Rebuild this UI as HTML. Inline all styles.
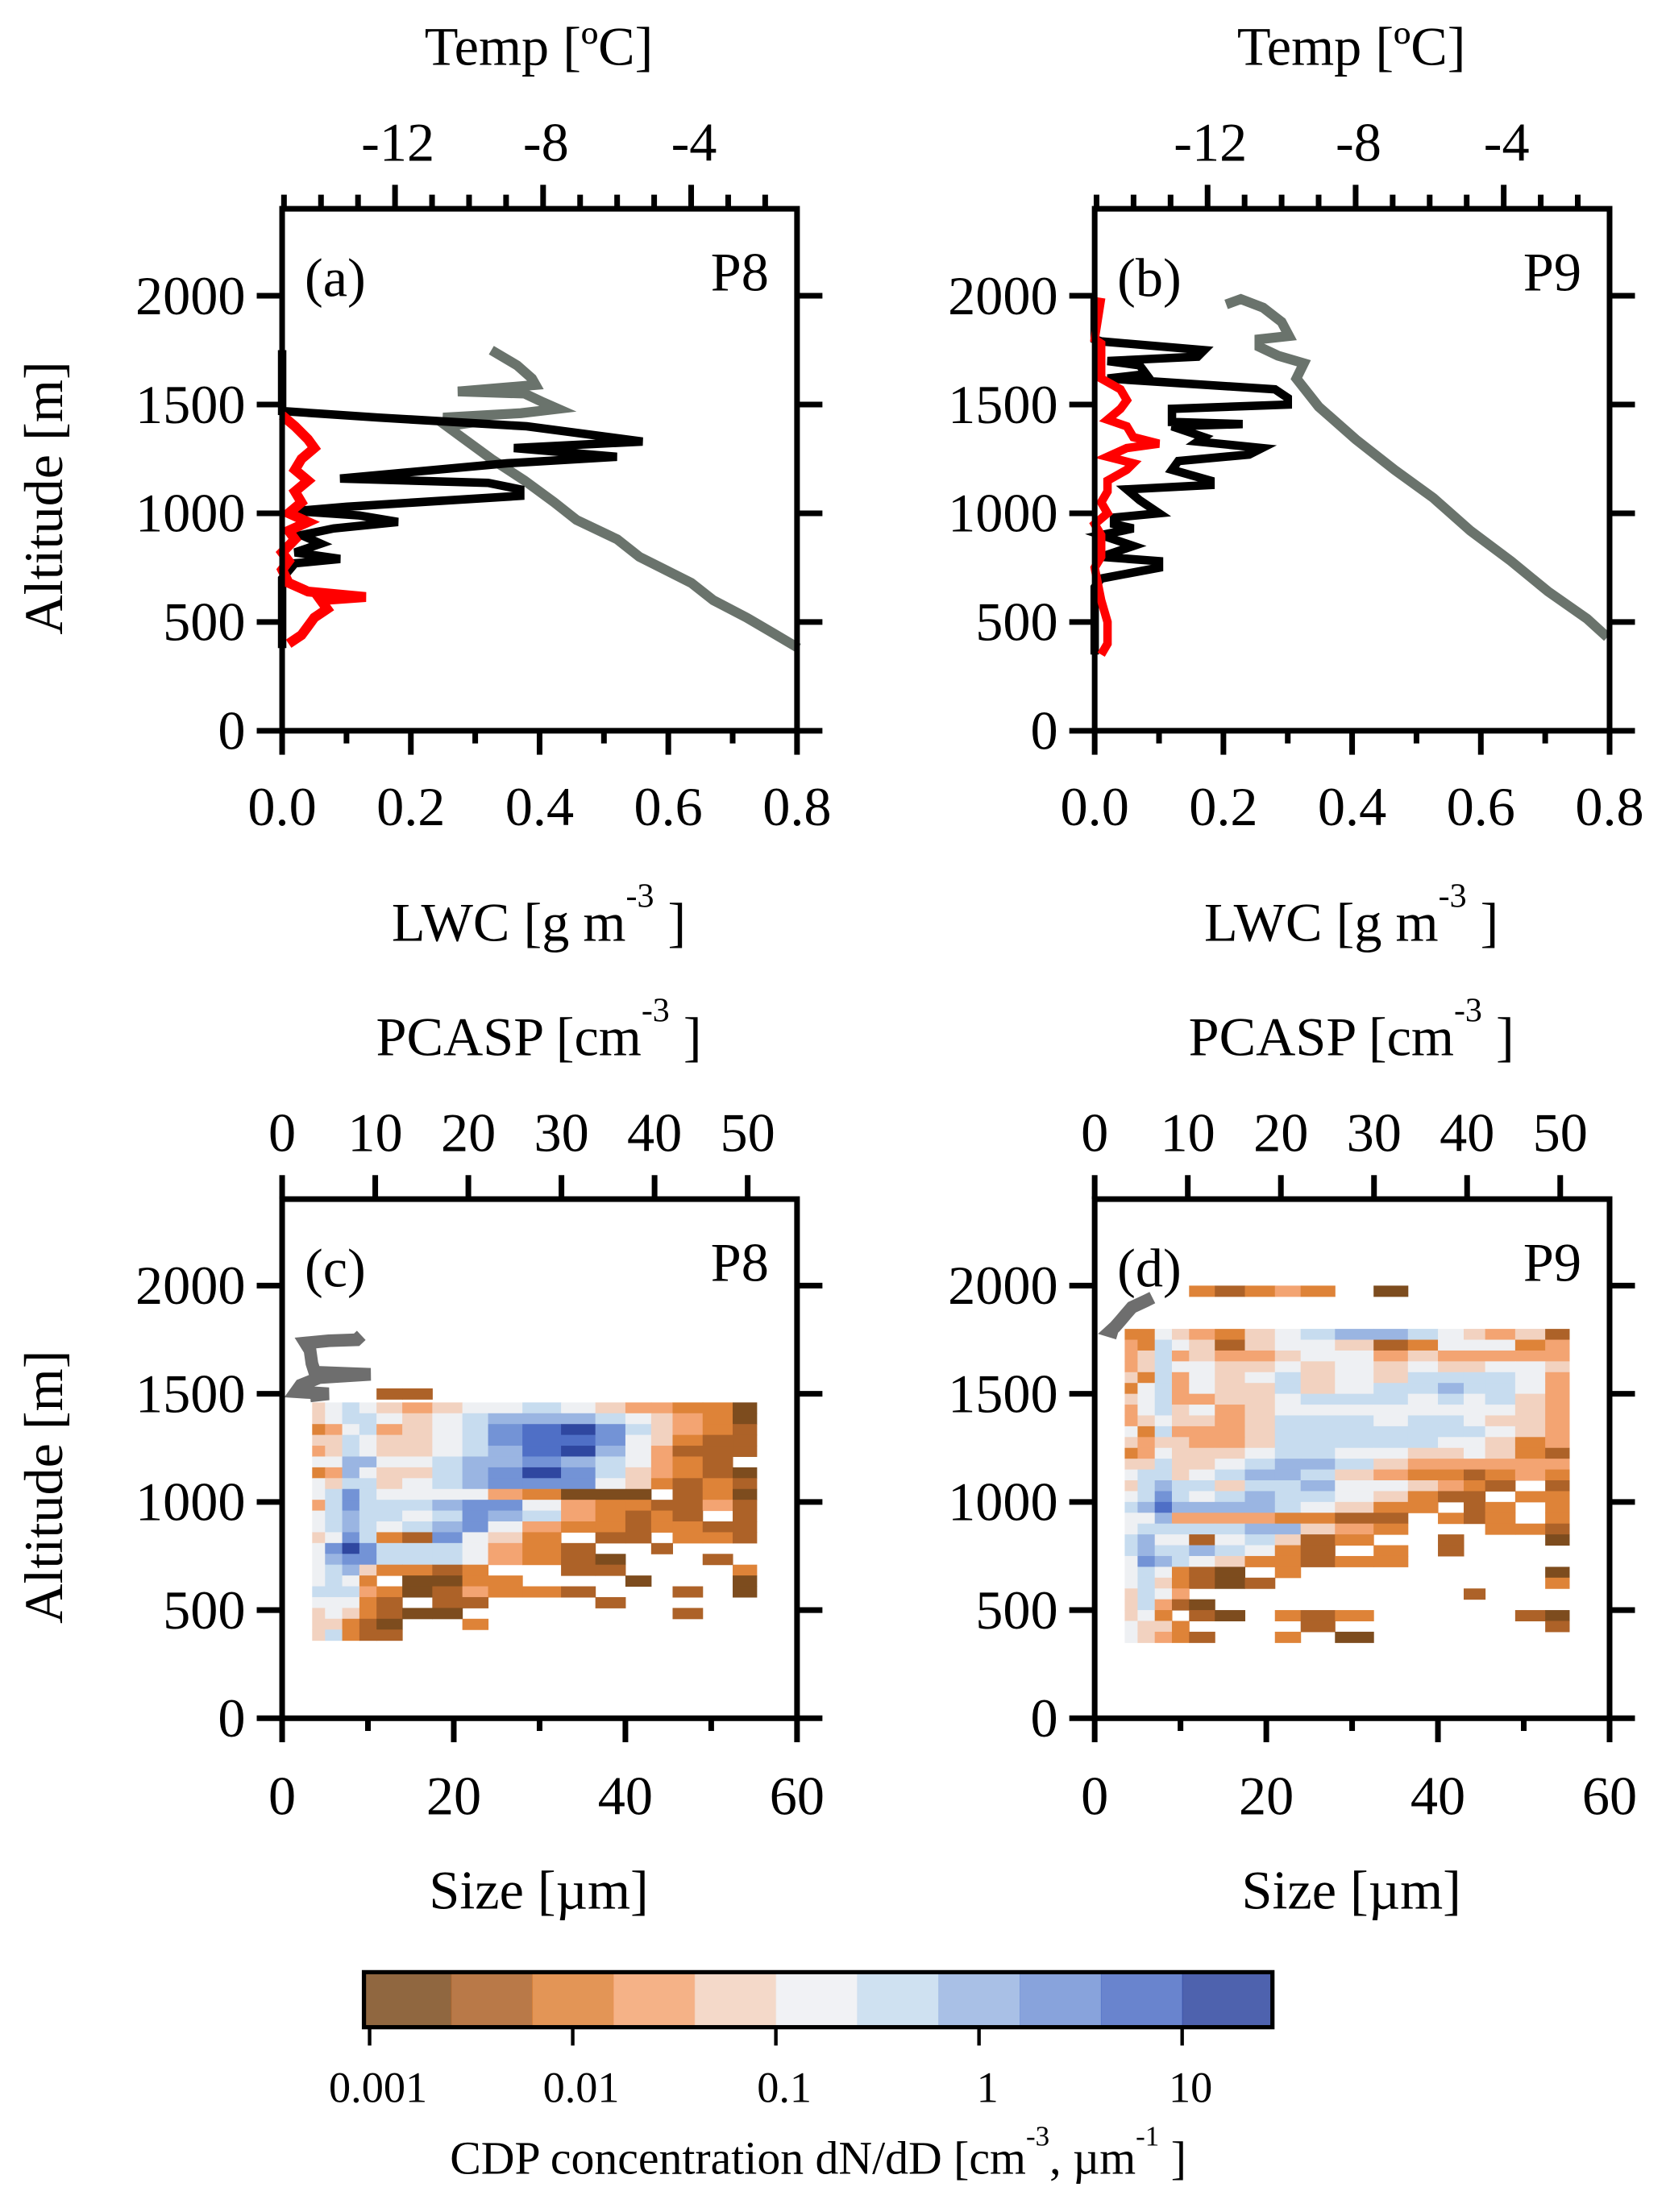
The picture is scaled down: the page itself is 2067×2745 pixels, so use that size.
<!DOCTYPE html>
<html><head><meta charset="utf-8"><style>
html,body{margin:0;padding:0;background:#fff;}
svg{display:block;}
text{font-family:"Liberation Serif",serif;fill:#000;}
</style></head><body>
<svg id="fig" width="2067" height="2745" viewBox="0 0 1181 1568" preserveAspectRatio="none" xmlns="http://www.w3.org/2000/svg">
<rect x="0" y="0" width="1181" height="1568" fill="#fff"/>
<g id="marks"></g>
<g id="axes"></g>
</svg>
<script>
// ---- data ----
const lwcAltA=[1750,1470,1440,1400,1330,1300,1260,1230,1160,1140,1110,1080,1030,1010,990,960,930,900,860,820,790,770,700,380];
const lwcA=[0,0,0.15,0.38,0.56,0.36,0.52,0.35,0.09,0.32,0.37,0.37,0.1,0.02,0.12,0.18,0.08,0.03,0.06,0.02,0.09,0.02,0,0];
const redAltA=[1450,1400,1340,1300,1250,1200,1150,1100,1050,1000,960,920,880,820,780,740,680,640,615,600,560,520,480,440,400];
const redA=[0,0.02,0.04,0.05,0.03,0.02,0.04,0.02,0.03,0.01,0.04,0.01,0.02,0,0.01,0,0.01,0.04,0.13,0.06,0.07,0.05,0.04,0.03,0.01];
const tAltA=[1750,1680,1620,1590,1560,1550,1510,1480,1460,1440,1420,1400,1350,1250,1150,1050,970,880,800,740,680,600,520,450,380];
const tempA=[-9.4,-8.7,-8.3,-8.2,-10.3,-8.5,-8.0,-7.6,-8.6,-10.7,-9.8,-10.6,-10.2,-9.4,-8.5,-7.7,-7.1,-6.0,-5.4,-4.7,-4.0,-3.4,-2.5,-1.8,-1.1];
const lwcAltB=[1990,1800,1790,1750,1720,1700,1680,1640,1620,1570,1530,1500,1480,1420,1410,1400,1350,1330,1300,1270,1240,1200,1150,1130,1110,1060,1000,980,950,930,900,850,800,780,750,700,660,350];
const lwcB=[0,0,0.01,0.17,0.16,0.02,0.07,0.08,0.02,0.28,0.3,0.3,0.12,0.12,0.23,0.12,0.17,0.16,0.26,0.24,0.13,0.12,0.18,0.18,0.05,0.07,0.1,0.03,0.03,0.06,0.01,0.06,0.01,0.1,0.1,0.01,0,0];
const redAltB=[1990,1800,1780,1700,1620,1570,1520,1480,1430,1400,1350,1320,1300,1260,1230,1200,1150,1100,1050,1000,950,900,800,750,600,500,400,350];
const redB=[0.01,0,0.01,0.01,0.01,0.04,0.05,0.04,0.02,0.05,0.06,0.1,0.05,0.02,0.06,0.05,0.02,0.02,0.01,0.02,0,0.01,0.01,0,0.01,0.02,0.02,0.01];
const tAltB=[1960,1985,1945,1880,1815,1800,1765,1725,1690,1620,1490,1340,1200,1070,920,780,640,515,430];
const tempB=[-11.5,-11.1,-10.5,-10.0,-9.8,-10.6,-10.6,-10.1,-9.4,-9.6,-9.0,-8.0,-6.95,-5.9,-4.9,-3.8,-2.8,-1.75,-1.2];
const sizeEdges=[3.5,5,7,9,11,14,17.5,21,24,28,32.5,36.5,40,43,45.5,49,52.5,55.3];
const rowAltC=[1435,1385,1335,1285,1235,1185,1135,1085,1035,985,935,885,835,785,735,685,635,585,535,485,435,385,1500];
const gridC=[
[-1.2,-0.8,-0.4,-0.8,-1.2,-1.6,-1.2,-0.8,-0.8,-0.4,-0.8,-1.2,-1.6,-1.6,-2,-2,-2.8],
[-1.2,-0.8,-0.4,-0.4,-0.8,-1.2,-0.8,-0.4,0,0,0,-0.4,-0.8,-1.2,-1.6,-2,-2.8],
[-2,-1.6,-0.8,-0.4,-1.6,-1.2,-0.8,-0.4,0.4,0.8,1.2,0.4,-0.4,-1.2,-1.6,-2,-2.4],
[-1.2,-1.2,-0.4,-0.8,-1.2,-1.2,-0.8,-0.4,0.4,0.8,0.8,0.4,-0.8,-1.2,-2,-2.4,-2.4],
[-1.6,-1.2,-0.4,-0.8,-1.2,-1.2,-0.8,-0.4,0,0.8,1.2,0,-0.8,-1.6,-2.4,-2.4,-2.4],
[-0.8,-0.8,0,0,-0.8,-0.8,-0.4,0,0,0.4,0,-0.4,-0.8,-1.6,-2,-2.4,null],
[-2,-1.6,0,-0.8,-1.2,-1.2,-0.4,0,0.4,1.2,0.4,-0.4,-1.2,-1.6,-2,-2.4,-2.8],
[-0.8,-1.2,-0.4,-0.4,-1.2,-0.8,-0.4,0,0.4,0.4,0.4,-0.8,-1.2,-2,-2.4,-2,-2.4],
[-0.8,-0.4,0.4,-0.4,-0.8,-0.8,-0.8,-0.8,-1.6,-2,-2.8,-2.8,-2.8,null,-2.4,-2,-2.8],
[-1.6,-0.4,0.4,-0.4,-0.4,-0.4,0,0.4,0.4,-0.8,-1.6,-2,-2,-2.4,-2.4,-1.6,-2.4],
[-0.8,-0.4,0,-0.4,-0.4,-0.8,-0.4,0.4,0,-0.4,-1.6,-2,-2.4,-2,-2.4,null,-2.4],
[-0.8,-0.4,0,-0.4,-0.8,-0.4,0,0.4,-0.8,-1.6,-2,-2,-2.4,-2,-2,-2.4,-2.4],
[-1.2,-0.8,0.4,-0.4,-2,-2.4,0.4,-0.8,-1.2,-2,null,-2.4,-2.4,null,-2,-2,-2.4],
[-0.8,0.4,1.2,0.4,-0.4,-0.4,-0.4,-0.8,-1.6,-2,-2.4,null,null,-2.4,null,null,null],
[-0.8,0,0.4,0.4,-0.4,-0.4,-0.4,-0.8,-1.6,-2,-2.4,-2.8,null,null,null,-2.4,null],
[-0.8,-0.4,0,-1.2,-2,-2,-2.4,-2,null,null,-2.4,-2.4,null,null,null,null,-2],
[-0.8,-0.4,-0.8,-2,null,-2.8,-2.8,-2,-2,null,null,null,-2.8,null,null,null,-2.8],
[-0.4,-0.4,-0.4,-1.6,-2,-2.8,-2.4,-1.6,-2,-2,-2.4,null,null,null,-2.4,null,-2.8],
[-0.8,-0.8,-0.8,-2,-2.4,null,-2.4,-2.4,null,null,null,-2.4,null,null,null,null,null],
[-1.2,-0.8,-1.2,-2,-2.4,-2.8,-2.8,null,null,null,null,null,null,null,-2.4,null,null],
[-1.2,-1.2,-2,-2.4,-2.8,null,null,-2,null,null,null,null,null,null,null,null,null],
[-1.2,-0.4,-2,-2.4,-2.4,null,null,null,null,null,null,null,null,null,null,null,null],
[null,null,null,null,-2.4,-2.4,null,null,null,null,null,null,null,null,null,null,null]
];
const rowAltD=[1775,1725,1675,1625,1575,1525,1475,1425,1375,1325,1275,1225,1175,1125,1075,1025,975,925,875,825,775,725,675,625,575,525,475,425,375,1975];
const gridD=[
[-2,-2,-0.8,-1.2,-1.6,-2,-1.2,-0.8,-0.4,0,0,-0.4,-0.8,-1.2,-1.6,-1.2,-2.4],
[-1.6,-2,-0.4,-0.8,-1.2,-2.4,-1.2,-0.8,-0.8,-1.2,-2.4,-2,-0.8,-0.8,-0.8,-2,-1.6],
[-1.6,-1.2,-0.4,-1.6,-1.2,-1.6,-1.6,-1.2,-0.8,-0.8,-1.6,-1.2,-1.6,-1.6,-1.6,-1.6,-1.6],
[-1.6,-1.2,-0.4,-0.8,-0.8,-1.2,-1.2,-0.8,-1.2,-0.8,-1.2,-0.8,-1.2,-1.2,-0.8,-0.8,-1.2],
[-1.2,-2,-0.4,-1.6,-0.8,-1.2,-0.8,-0.4,-1.2,-0.8,-1.2,-0.4,-0.4,-0.4,-0.4,-0.8,-1.6],
[-2,-0.8,-0.4,-1.6,-0.8,-1.2,-1.2,-0.4,-1.2,-0.8,-0.4,-0.4,0,-0.4,-0.4,-0.8,-1.6],
[-1.2,-0.8,-0.4,-1.6,-1.6,-1.2,-1.2,-0.8,-0.4,-0.4,-0.4,-0.8,-0.4,-0.8,-0.4,-1.2,-1.6],
[-1.6,-0.8,-0.4,-1.2,-0.8,-1.6,-1.2,-0.8,-0.8,-0.8,-0.8,-0.8,-0.8,-0.8,-0.8,-1.2,-1.6],
[-1.6,-1.2,-0.8,-1.2,-1.2,-1.6,-1.2,-0.4,-0.4,-0.4,-0.8,-0.4,-0.4,-0.8,-1.2,-1.2,-1.6],
[-0.8,-2,-0.4,-1.6,-1.6,-1.6,-1.2,-0.4,-0.4,-0.4,-0.4,-0.4,-0.4,-0.4,-0.8,-1.2,-1.6],
[-1.2,-1.6,-1.2,-1.2,-1.6,-1.6,-1.2,-0.4,-0.4,-0.4,-0.4,-0.4,-0.8,-0.8,-1.2,-2,-1.6],
[-2,-1.6,-0.8,-1.2,-1.2,-1.2,-0.8,-0.4,-0.4,-0.8,-0.8,-1.2,-1.2,-0.8,-1.2,-2,-2.4],
[-1.2,-1.2,-0.4,-1.2,-1.2,-0.8,-0.4,0,0,-0.4,-1.2,-1.6,-1.6,-1.6,-1.6,-1.6,-1.6],
[-0.8,-0.4,-0.4,-1.2,-0.8,-0.4,0,0,-0.4,-1.2,-1.6,-2,-2,-2.4,-2,-1.6,-2],
[-1.2,-0.4,0,-0.4,-0.4,-1.2,-0.4,-0.4,0,-0.8,-0.8,-1.2,-1.6,-2,-2.4,null,-2.4],
[-0.8,-0.4,0.4,-0.4,-0.8,-0.4,0,-0.4,-0.4,-0.8,-1.2,-2,-2.4,-2.4,null,-2,-2],
[-0.4,0,0.8,0,0,0,0,-0.4,-0.8,-1.2,-2,-2,null,-2.4,-2,null,-2],
[-0.8,-0.8,0,-1.6,-1.6,-1.6,-1.6,-2,-2,-2.4,-2.4,null,-2,-2.4,-2,null,-2],
[-0.8,-0.4,-0.4,-0.4,-0.4,-0.4,0,0,-1.2,-1.6,-2,null,null,null,-2,-2,-2.4],
[-0.4,0,-0.8,-0.8,-2.4,-0.8,-0.4,-1.2,-2.4,-2,null,null,-2.4,null,null,null,-2.8],
[-0.4,0,-0.4,-0.4,0,-0.4,-0.8,-2,-2.4,null,-2,null,-2.4,null,null,null,null],
[-0.8,0.4,0,-0.4,-0.8,-1.2,-2,-2,-2.4,-2,-2,null,null,null,null,null,null],
[-0.8,-0.4,-0.8,-2,-2.4,-2.8,null,-2,null,null,null,null,null,null,null,null,-2.8],
[-0.8,-0.4,-1.2,-2,-2.4,-2.8,-2.4,null,null,null,null,null,null,null,null,null,-2],
[-1.2,-0.4,-0.8,-1.6,null,null,null,null,null,null,null,null,null,-2.4,null,null,null],
[-1.2,-0.4,-1.6,-2.4,-2.8,null,null,null,null,null,null,null,null,null,null,null,null],
[-1.2,-0.8,-2,null,-2.4,-2.8,null,-2,-2.4,-2,null,null,null,null,null,-2.4,-2.8],
[-0.8,-1.2,-1.2,-2,null,null,null,null,-2.4,null,null,null,null,null,null,null,-2.4],
[-0.8,-1.2,-1.6,-2,-2.4,null,null,-2,null,-2.8,null,null,null,null,null,null,null],
[null,null,null,null,-2,-2.4,-2,-1.6,-2,null,-2.8,null,null,null,null,null,null]
];
const pcAltC=[1770,1750,1745,1735,1700,1640,1600,1590,1575,1540,1510,1500,1490];
const pcC=[8.5,8.0,5,2.5,3,3.2,3.5,9.5,4,2,1.5,5,3];
const pcAltD=[1945,1930,1900,1870,1840,1810,1790,1780];
const pcD=[6.2,5.5,4.0,3.4,2.8,2.2,1.7,2.5];
const cbTicks=[0.001,0.01,0.1,1,10];
const cbTickLabels=["0.001","0.01","0.1","1","10"];
const cbLevels=[-3.0,-2.6,-2.2,-1.8,-1.4,-1.0,-0.6,-0.2,0.2,0.6,1.0,1.4];

const NS="http://www.w3.org/2000/svg";
const marks=document.getElementById('marks');
const axes=document.getElementById('axes');
function mk(tag,attrs,parent){const e=document.createElementNS(NS,tag);for(const k in attrs)e.setAttribute(k,attrs[k]);(parent||marks).appendChild(e);return e;}
const colors=['#7d4c1e','#ad6228','#de8338','#f3a472','#f2d2c0','#eef0f3','#c7dcef','#9ab5e2','#7393d6','#4f6fc6','#2f47a0'];
function colorOf(v){let k=Math.floor((v+3.0)/0.4);k=Math.max(0,Math.min(10,k));return colors[k];}

const PL=[200,776], PW=365;
function yTop(a){return 518-a*370/2400;}
function yBot(a){return 1218-a*368/2400;}
function xLwc(p,v){return PL[p]+v/0.8*PW;}
function xTemp(p,t){return PL[p]+(t+15.05)/13.91*PW;}
function xSize(p,s){return PL[p]+s/60*PW;}
function xPc(p,c){return PL[p]+c/55.3*PW;}

function poly(xs,ys,stroke,w,name){
  const pts=xs.map((x,i)=>x.toFixed(1)+','+ys[i].toFixed(1)).join(' ');
  const e=mk('polyline',{points:pts,fill:'none',stroke:stroke,'stroke-width':w,'stroke-linejoin':'miter','stroke-linecap':'butt'});
  
  
}
poly(tempA.map(t=>xTemp(0,t)),tAltA.map(yTop),'#6a736c',7,'temperature-line-p8');
poly(lwcA.map(v=>xLwc(0,v)),lwcAltA.map(yTop),'#000',6,'lwc-line-p8');
poly(redA.map(v=>xLwc(0,v)),redAltA.map(yTop),'#f00',7,'red-lwc-line-p8');
poly(tempB.map(t=>xTemp(1,t)),tAltB.map(yTop),'#6a736c',7,'temperature-line-p9');
poly(lwcB.map(v=>xLwc(1,v)),lwcAltB.map(yTop),'#000',6,'lwc-line-p9');
poly(redB.map(v=>xLwc(1,v)),redAltB.map(yTop),'#f00',6,'red-lwc-line-p9');

function heat(p,alts,grid,name){
  const g=mk('g',{});
  
  
  alts.forEach((a,i)=>{
    const row=grid[i];
    const y0=yBot(a+25), y1=yBot(a-25);
    for(let j=0;j<sizeEdges.length-1;j++){
      const v=row[j]; if(v===null||v===undefined)continue;
      const x0=xSize(p,sizeEdges[j]),x1=xSize(p,sizeEdges[j+1]);
      const r=mk('rect',{x:x0.toFixed(2),y:y0.toFixed(2),width:(x1-x0+0.3).toFixed(2),height:(y1-y0+0.3).toFixed(2),fill:colorOf(v)},g);
      
      
    }
  });
}
heat(0,rowAltC,gridC,'cdp-heatmap-p8');
heat(1,rowAltD,gridD,'cdp-heatmap-p9');
poly(pcC.map(c=>xPc(0,c)),pcAltC.map(yBot),'#6e6e6e',9,'pcasp-line-p8');
poly(pcD.map(c=>xPc(1,c)),pcAltD.map(yBot),'#6e6e6e',9,'pcasp-line-p9');

function line(x1,y1,x2,y2,w,name){const e=mk('line',{x1,y1,x2,y2,stroke:'#000','stroke-width':w},axes);return e;}
function txt(x,y,s,size,anchor,name,extra){const e=mk('text',Object.assign({x,y,'font-size':size,'text-anchor':anchor||'middle'},extra||{}),axes);e.textContent=s;return e;}

const FS=39;
function frame(p,top,bot,yfun,label,pname){
  const L=PL[p],R=L+PW;
  const r=mk('rect',{x:L,y:top,width:PW,height:bot-top,fill:'none',stroke:'#000','stroke-width':4},axes);
  
  
  [0,500,1000,1500,2000].forEach(a=>{
    const y=yfun(a);
    line(L-18,y,L,y,4,'y-tick');line(R,y,R+18,y,4,'y-tick-right');
    txt(L-26,y+13,String(a),FS,'end','y-tick-label');
  });
  txt(L+16,top+62,label,FS,'start','panel-label');
  txt(R-20,top+58,pname,FS,'end','profile-label');
  if(p===0){const cy=(top+bot)/2+20;const t=txt(44,cy,'Altitude [m]',FS,'middle','y-axis-title');t.setAttribute('transform','rotate(-90 44 '+cy+')');}
}
for(let p=0;p<2;p++){
  const L=PL[p];
  frame(p,148,518,yTop,p?'(b)':'(a)',p?'P9':'P8');
  for(let k=0;k<=8;k++){const x=xLwc(p,k/10);line(x,518,x,518+(k%2?9:17),4,'x-tick');}
  [0,0.2,0.4,0.6,0.8].forEach(v=>txt(xLwc(p,v),585,v.toFixed(1),FS,'middle','x-tick-label'));
  const lw=txt(L+182,667,'LWC [g m',FS,'middle','x-axis-title');
  const s=mk('tspan',{dy:-24,'font-size':24},lw);s.textContent='-3';
  const s2=mk('tspan',{dy:24,'font-size':FS},lw);s2.textContent=' ]';
  for(let t=-15;t<=-1;t++){const x=xTemp(p,t);if(x<L-1||x>L+PW+1)continue;line(x,148,x,148-((t%4===0)?17:10),4,'temp-tick');}
  [-12,-8,-4].forEach(t=>txt(xTemp(p,t)+2,114,String(t),FS,'middle','temp-tick-label'));
  txt(L+182,46,'Temp [ºC]',FS,'middle','temp-axis-title');

  frame(p,850,1218,yBot,p?'(d)':'(c)',p?'P9':'P8');
  for(let s=0;s<=60;s+=10){const x=xSize(p,s);line(x,1218,x,1218+(s%20?9:17),4,'size-tick');}
  [0,20,40,60].forEach(s=>txt(xSize(p,s),1286,String(s),FS,'middle','size-tick-label'));
  txt(L+182,1353,'Size [µm]',FS,'middle','size-axis-title');
  for(let c=0;c<=50;c+=10){const x=xPc(p,c);line(x,850,x,833,4,'pcasp-tick');txt(x,816,String(c),FS,'middle','pcasp-tick-label');}
  const pc=txt(L+182,748,'PCASP [cm',FS,'middle','pcasp-axis-title');
  const q=mk('tspan',{dy:-24,'font-size':24},pc);q.textContent='-3';
  const q2=mk('tspan',{dy:24,'font-size':FS},pc);q2.textContent=' ]';
}
const cbL=262, cbDec=144;
function xCb(lv){return cbL+(lv+3)*cbDec;}
const cb=mk('g',{},axes);


for(let i=0;i<cbLevels.length-1;i++){
  const x0=i===0?258:xCb(cbLevels[i]), x1=i===cbLevels.length-2?902:xCb(cbLevels[i+1]);
  const r=mk('rect',{x:x0,y:1398,width:x1-x0+0.5,height:39,fill:colors[i],opacity:0.85},cb);
  
  
}
const cbf=mk('rect',{x:258,y:1398,width:644,height:39,fill:'none',stroke:'#000','stroke-width':3},cb);


cbTicks.forEach((v,i)=>{const x=xCb(Math.log10(v));line(x,1437,x,1450,2.5,'colorbar-tick');txt(x+6,1490,cbTickLabels[i],31,'middle','colorbar-tick-label');});
const ct=txt(580,1541,'CDP concentration dN/dD [cm',33,'middle','colorbar-title');
const c1=mk('tspan',{dy:-20,'font-size':20},ct);c1.textContent='-3';
const c2=mk('tspan',{dy:20,'font-size':33},ct);c2.textContent=', µm';
const c3=mk('tspan',{dy:-20,'font-size':20},ct);c3.textContent='-1';
const c4=mk('tspan',{dy:20,'font-size':33},ct);c4.textContent=' ]';
</script>
</body></html>
